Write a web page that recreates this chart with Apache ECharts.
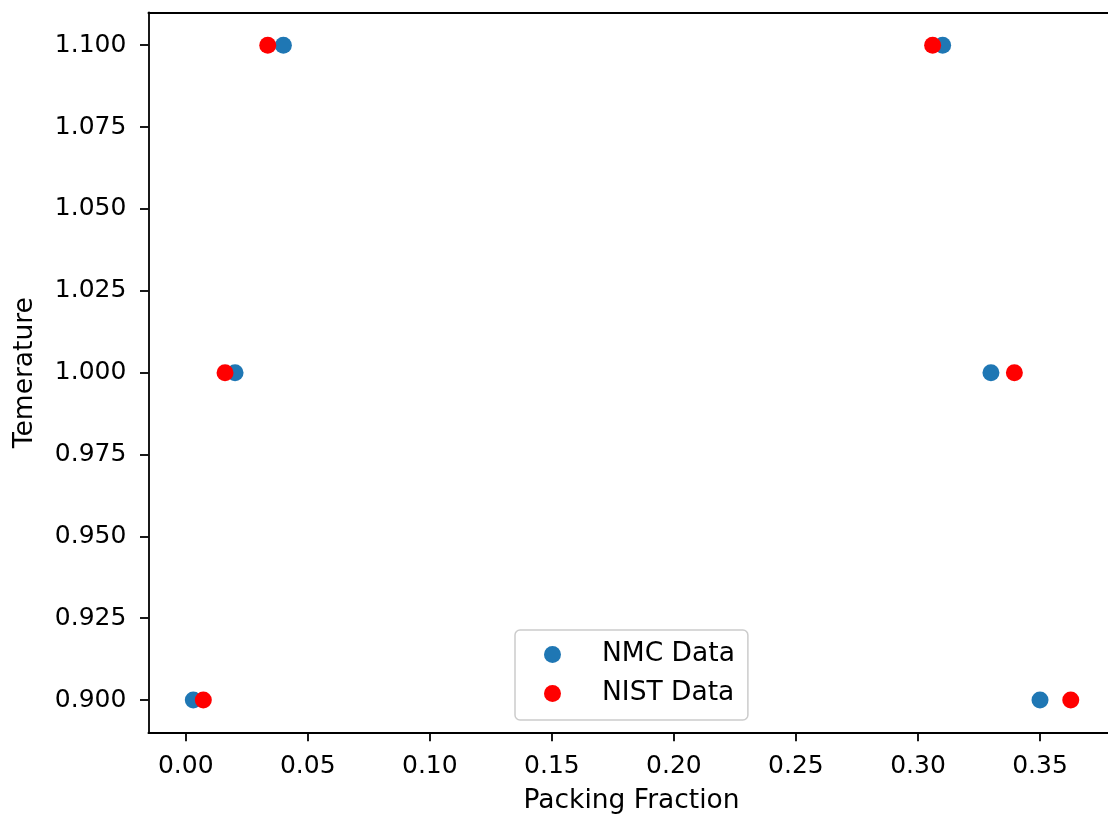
<!DOCTYPE html>
<html>
<head>
<meta charset="utf-8">
<script src="https://cdn.jsdelivr.net/npm/echarts@6/dist/echarts.min.js"></script>
<style>
html,body{margin:0;padding:0;background:#fff;}
#chart{width:1108px;height:815px;}
</style>
</head>
<body>
<div id="chart"></div>
<script>
// Data
const nmcX = [0.0400, 0.3101, 0.0202, 0.3299, 0.0031, 0.3500];
const nmcY = [1.100, 1.100, 1.000, 1.000, 0.900, 0.900];
const nistX = [0.0336, 0.3060, 0.0161, 0.3395, 0.0072, 0.3626];
const nistY = [1.100, 1.100, 1.000, 1.000, 0.900, 0.900];
const xTicks = [0.00, 0.05, 0.10, 0.15, 0.20, 0.25, 0.30, 0.35];
const yTicks = [0.900, 0.925, 0.950, 0.975, 1.000, 1.025, 1.050, 1.075, 1.100];
const seriesNames = ['NMC Data', 'NIST Data'];
const xName = 'Packing Fraction';
const yName = 'Temerature';

const font = 'DejaVu Sans';
const pairs = (xs, ys) => xs.map((x, i) => [x, ys[i]]);

const chart = echarts.init(document.getElementById('chart'), null, {renderer: 'canvas'});
const axisLine = {show: true, onZero: false, lineStyle: {color: '#000', width: 1.8}};
chart.setOption({
  animation: false,
  backgroundColor: '#fff',
  grid: {left: 148.4, top: 12.5, right: -6.7, bottom: 82.2, outerBoundsMode: 'none', containLabel: false},
  xAxis: [{
    type: 'value', min: -0.0153, max: 0.3806, position: 'bottom',
    name: xName, nameLocation: 'middle', nameGap: 55,
    nameTextStyle: {fontFamily: font, fontSize: 26.5, color: '#000'},
    axisLine: axisLine,
    axisTick: {show: true, length: 8.4, lineStyle: {color: '#000', width: 1.8}, customValues: xTicks},
    axisLabel: {show: true, margin: 21, fontFamily: font, fontSize: 25, color: '#000',
      customValues: xTicks, formatter: v => Number(v).toFixed(2)},
    splitLine: {show: false}
  }, {
    type: 'value', min: -0.0153, max: 0.3806, position: 'top',
    axisLine: axisLine, axisTick: {show: false}, axisLabel: {show: false}, splitLine: {show: false}
  }],
  yAxis: [{
    type: 'value', min: 0.89, max: 1.11, position: 'left',
    name: yName, nameLocation: 'middle', nameGap: 110,
    nameTextStyle: {fontFamily: font, fontSize: 26.5, color: '#000'},
    axisLine: axisLine,
    axisTick: {show: true, length: 8.4, lineStyle: {color: '#000', width: 1.8}, customValues: yTicks},
    axisLabel: {show: true, margin: 22, fontFamily: font, fontSize: 25, color: '#000',
      customValues: yTicks, formatter: v => Number(v).toFixed(3)},
    splitLine: {show: false}
  }, {
    type: 'value', min: 0.89, max: 1.11, position: 'right',
    axisLine: axisLine, axisTick: {show: false}, axisLabel: {show: false}, splitLine: {show: false}
  }],
  legend: {
    orient: 'vertical', left: 515, top: 630,
    data: seriesNames,
    icon: 'circle', itemWidth: 17, itemHeight: 17, itemGap: 12,
    padding: [11, 13, 13, 29],
    backgroundColor: 'rgba(255,255,255,0.8)',
    borderColor: '#cccccc', borderWidth: 1.5, borderRadius: 5,
    textStyle: {fontFamily: font, fontSize: 26.5, color: '#000', padding: [0, 0, 0, 36]}
  },
  series: [{
    name: seriesNames[0], type: 'scatter', data: pairs(nmcX, nmcY),
    symbol: 'circle', symbolSize: 17, itemStyle: {color: '#1f77b4', opacity: 1}, z: 2
  }, {
    name: seriesNames[1], type: 'scatter', data: pairs(nistX, nistY),
    symbol: 'circle', symbolSize: 17, itemStyle: {color: '#ff0000', opacity: 1}, z: 3
  }]
});
</script>
</body>
</html>
